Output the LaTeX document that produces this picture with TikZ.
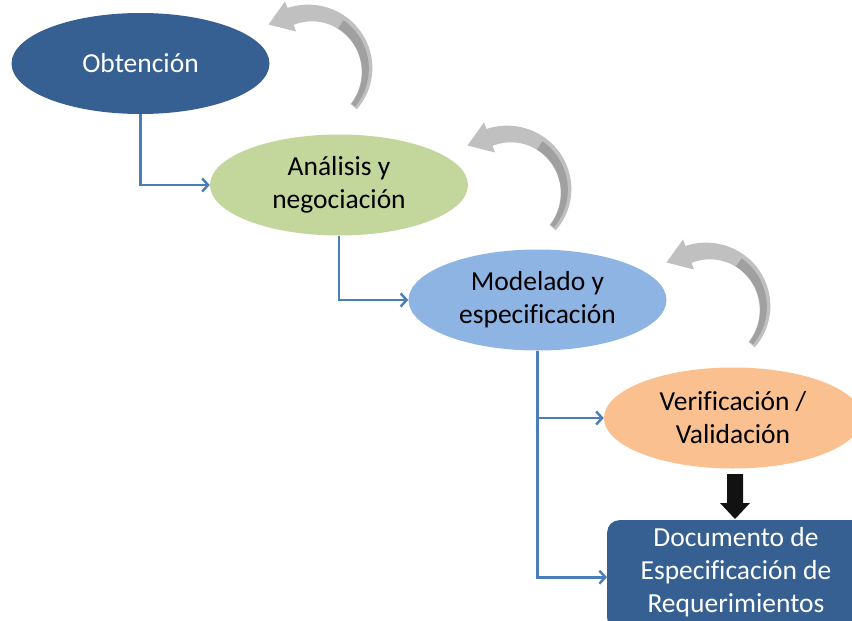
\documentclass[tikz,border=0pt]{standalone}
\usepackage{fontspec}
\setmainfont{Carlito}[Ligatures={NoCommon}]
\usetikzlibrary{arrows.meta,shapes.geometric}
\definecolor{dblue}{RGB}{54,96,146}
\definecolor{lgreen}{RGB}{195,214,155}
\definecolor{lblue}{RGB}{142,180,227}
\definecolor{lorange}{RGB}{250,192,144}
\definecolor{conn}{RGB}{74,126,187}
\definecolor{agray}{RGB}{192,192,192}
\definecolor{agrayd}{RGB}{160,160,160}
\tikzset{
  phase/.style={ellipse, minimum width=258pt, minimum height=101pt, inner sep=0pt, align=center,
    font=\fontsize{27.5}{33}\selectfont},
  docbox/.style={rectangle, rounded corners=12pt, fill=dblue, text=white, align=center,
    minimum width=262pt, minimum height=110pt, inner sep=0pt},
  link/.style={draw=conn, line width=2.6pt, -{Straight Barb[length=6pt,width=13pt,line width=2.4pt]}},
}
\newcommand{\cycarrow}[2]{%
  \begin{scope}[shift={(#1,#2)}]
    \fill[agray]
      plot[domain=0:1, samples=40, variable=\t]
        ({310+(61+5*\t)*cos(40-150*\t)}, {70+(61+5*\t)*sin(40-150*\t)})
      -- ({310+73*cos(-110)},{70+73*sin(-110)})
      -- (268.5,24.5)
      -- ({310+41*cos(-110)},{70+41*sin(-110)})
      -- plot[domain=0:1, samples=40, variable=\t]
        ({310+(53-5*(1-\t))*cos(40-150*(1-\t))}, {70+(53-5*(1-\t))*sin(40-150*(1-\t))})
      -- cycle;
    \fill[agrayd]
      plot[domain=0:1, samples=30, variable=\t]
        ({310+(58+2*\t)*cos(39-95*\t)}, {70+(58+2*\t)*sin(39-95*\t)})
      -- plot[domain=0:1, samples=30, variable=\t]
        ({310+(53.5-3.5*(1-\t))*cos(39-95*(1-\t))}, {70+(53.5-3.5*(1-\t))*sin(39-95*(1-\t))})
      -- cycle;
  \end{scope}}
\begin{document}
\begin{tikzpicture}[x=1pt,y=-1pt]
\useasboundingbox (0,0) rectangle (852,621);
\clip (0,0) rectangle (852,621);
\fill[white] (0,0) rectangle (852,621);

\cycarrow{0}{0}
\cycarrow{199}{121}
\cycarrow{398}{238}

\node[phase, fill=dblue, text=white] (e1) at (140.5,63.5) {Obtención};
\node[phase, fill=lgreen] (e2) at (339,185) {Análisis y\\negociación};
\node[phase, fill=lblue] (e3) at (537.5,300) {Modelado y\\especificación};
\node[phase, fill=lorange] (e4) at (733,418) {Verificación /\\Validación};
\node[docbox, anchor=north west] (doc) at (607,520) {};
\node[text=white, align=center, font=\fontsize{27.5}{33}\selectfont] (doctext) at (736,572.5)
  {Documento de\\Especificación de\\Requerimientos};

\draw[link] (e1.south) |- (e2.west);
\draw[link] (e2.south) |- (e3.west);
\draw[link] (e3.south) |- (e4.west);
\draw[link] (e3.south) |- ([yshift=-2pt]doc.west);

\fill[black!93] (727,474) -- (743,474) -- (743,503) -- (750,503) -- (735,519) -- (720,503) -- (727,503) -- cycle;
\end{tikzpicture}
\end{document}
